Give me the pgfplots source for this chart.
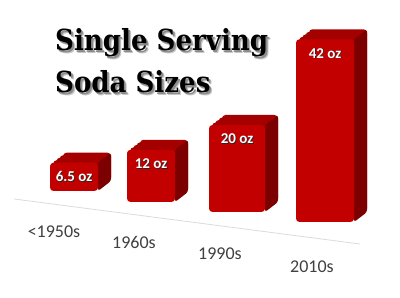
\documentclass[border=0pt]{standalone}
\usepackage{pgfplots}
\pgfplotsset{compat=1.18}
\usepackage{fontspec}
\setmainfont{Carlito}
\newfontfamily\titlefont{DejaVu Serif Condensed Bold}
\definecolor{frontc}{HTML}{C20000}
\definecolor{topc}{HTML}{A40000}
\definecolor{sidec}{HTML}{7C0000}
\definecolor{labc}{HTML}{404040}
\begin{document}
\begin{tikzpicture}
\begin{axis}[
  scale only axis, width=400pt, height=298pt,
  xmin=0, xmax=400, ymin=-17.47, ymax=51.03,
  hide axis, clip=false,
  /pgf/number format/assume math mode=true,
  b3/.style={ybar, bar shift=0pt, draw=none, rounded corners=3.5pt},
  hull/.style={b3, fill=topc},
  sideface/.style={b3, fill=sidec, bar width=13pt, yslant=0.769, rounded corners=2.5pt},
  frontface/.style={b3, fill=frontc},
  vshadow/.style={nodes near coords={\pgfmathprintnumber{\pgfplotspointmeta} oz},
    every node near coord/.append style={anchor=center, text=black!85,
      font=\bfseries\fontsize{15}{15}\selectfont, xshift=0.8pt, yshift=-14.8pt}},
  vlabel/.style={b3, fill=none, nodes near coords={\pgfmathprintnumber{\pgfplotspointmeta} oz},
    every node near coord/.append style={anchor=center, text=white,
      font=\bfseries\fontsize{15}{15}\selectfont, yshift=-14pt}},
]
% frame of the picture
\addplot[draw=none] coordinates {(0,-17.47) (400,51.03)};
% floor line
\addplot[color=black!14, line width=0.8pt] coordinates {(14,5.29) (360,-5.06)};

% <1950s  (front 50..98, base 31pt)
\addplot[hull, bar width=48pt, xshift=3.25pt, yshift=33.5pt] coordinates {(74,6.5)};
\addplot[hull, bar width=48pt, xshift=6.5pt, yshift=36pt] coordinates {(74,6.5)};
\addplot[hull, bar width=48pt, xshift=9.75pt, yshift=38.5pt] coordinates {(74,6.5)};
\addplot[hull, bar width=48pt, xshift=13pt, yshift=41pt] coordinates {(74,6.5)};
\addplot[sideface, yshift=-44.38pt] coordinates {(104.5,6.5)};
\addplot[frontface, vshadow, bar width=48pt, yshift=31pt] coordinates {(74,6.5)};
\addplot[vlabel, bar width=48pt, yshift=31pt] coordinates {(74,6.5)};
% 1960s  (front 127..175, base 20pt)
\addplot[hull, bar width=48pt, xshift=3.25pt, yshift=22.5pt] coordinates {(151,12)};
\addplot[hull, bar width=48pt, xshift=6.5pt, yshift=25pt] coordinates {(151,12)};
\addplot[hull, bar width=48pt, xshift=9.75pt, yshift=27.5pt] coordinates {(151,12)};
\addplot[hull, bar width=48pt, xshift=13pt, yshift=30pt] coordinates {(151,12)};
\addplot[sideface, yshift=-114.62pt] coordinates {(181.5,12)};
\addplot[frontface, vshadow, bar width=48pt, yshift=20pt] coordinates {(151,12)};
\addplot[vlabel, bar width=48pt, yshift=20pt] coordinates {(151,12)};
% 1990s  (front 209..265, base 10pt)
\addplot[hull, bar width=56pt, xshift=3.25pt, yshift=12.5pt] coordinates {(237,20)};
\addplot[hull, bar width=56pt, xshift=6.5pt, yshift=15pt] coordinates {(237,20)};
\addplot[hull, bar width=56pt, xshift=9.75pt, yshift=17.5pt] coordinates {(237,20)};
\addplot[hull, bar width=56pt, xshift=13pt, yshift=20pt] coordinates {(237,20)};
\addplot[sideface, yshift=-193.85pt] coordinates {(271.5,20)};
\addplot[frontface, vshadow, bar width=56pt, yshift=10pt] coordinates {(237,20)};
\addplot[vlabel, bar width=56pt, yshift=10pt] coordinates {(237,20)};
% 2010s  (front 296..354, base 0pt)
\addplot[hull, bar width=58pt, xshift=3.25pt, yshift=2.5pt] coordinates {(325,42)};
\addplot[hull, bar width=58pt, xshift=6.5pt, yshift=5pt] coordinates {(325,42)};
\addplot[hull, bar width=58pt, xshift=9.75pt, yshift=7.5pt] coordinates {(325,42)};
\addplot[hull, bar width=58pt, xshift=13pt, yshift=10pt] coordinates {(325,42)};
\addplot[sideface, yshift=-272.31pt] coordinates {(360.5,42)};
\addplot[frontface, vshadow, bar width=58pt, yshift=0pt] coordinates {(325,42)};
\addplot[vlabel, bar width=58pt, yshift=0pt] coordinates {(325,42)};

% category labels
\addplot[draw=none, nodes near coords, point meta=explicit symbolic,
  every node near coord/.style={anchor=center, text=labc,
    font=\fontsize{18}{18}\selectfont}]
  coordinates {(54,-2.30) [{<1950s}] (134,-4.60) [1960s] (220,-7.36) [1990s] (312,-10.34) [2010s]};

% title with soft shadow
\node[anchor=north west, inner sep=0pt, align=left, text=black!22,
  font=\titlefont\fontsize{29}{42}\selectfont]
  at (axis description cs:0.1445,0.894) {Single Serving\\Soda Sizes};
\node[anchor=north west, inner sep=0pt, align=left, text=black!45,
  font=\titlefont\fontsize{29}{42}\selectfont]
  at (axis description cs:0.1420,0.898) {Single Serving\\Soda Sizes};
\node[anchor=north west, inner sep=0pt, align=left, text=black,
  font=\titlefont\fontsize{29}{42}\selectfont]
  at (axis description cs:0.1375,0.906) {Single Serving\\Soda Sizes};
\end{axis}
\end{tikzpicture}
\end{document}
